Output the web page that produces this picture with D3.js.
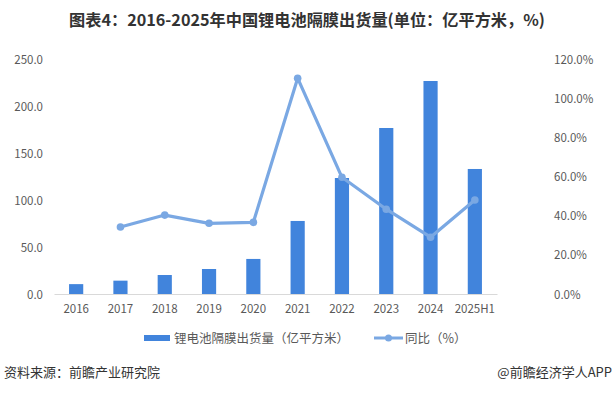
<!DOCTYPE html>
<html><head><meta charset="utf-8">
<script src="https://cdn.jsdelivr.net/npm/d3@7"></script>
<style>
html,body{margin:0;padding:0;background:#fff;}
svg{display:block;font-family:"Noto Sans CJK SC","Microsoft YaHei",sans-serif;}
</style></head>
<body>
<svg id="chart" width="614" height="393"></svg>
<script>
const categories = ["2016","2017","2018","2019","2020","2021","2022","2023","2024","2025H1"];
const shipments = [10.5, 14.2, 20.2, 26.6, 37.3, 77.7, 123.4, 176.6, 226.6, 133.0];
const yoy = [null, 34.2, 40.3, 36.1, 36.6, 110.2, 59.6, 43.3, 29.0, 48.0];
const leftTicks = [0, 50, 100, 150, 200, 250];
const rightTicks = [0, 20, 40, 60, 80, 100, 120];
const title = "图表4：2016-2025年中国锂电池隔膜出货量(单位：亿平方米，%)";
const barName = "锂电池隔膜出货量（亿平方米）";
const lineName = "同比（%）";
const source = "资料来源：前瞻产业研究院";
const credit = "@前瞻经济学人APP";

const svg = d3.select("#chart");
const barColor = "#4184dc", lineColor = "#7aa8e3", textColor = "#595959";
const x = d3.scaleBand().domain(categories).range([54, 497]).paddingInner(0.68).paddingOuter(0.34);
const yL = d3.scaleLinear().domain([0, 250]).range([294, 59]);
const yR = d3.scaleLinear().domain([0, 120]).range([294, 59]);

// title
svg.append("text").attr("x", 307).attr("y", 26).attr("text-anchor", "middle")
  .attr("font-size", 16.2).attr("font-weight", "bold").attr("fill", "#333").text(title);

// axes
const gL = svg.append("g").attr("transform", "translate(43,0)")
  .call(d3.axisLeft(yL).tickValues(leftTicks).tickFormat(d3.format(".1f")).tickSize(0).tickPadding(0));
const gR = svg.append("g").attr("transform", "translate(554,0)")
  .call(d3.axisRight(yR).tickValues(rightTicks).tickFormat(d => d.toFixed(1) + "%").tickSize(0).tickPadding(0));
const gX = svg.append("g").attr("transform", "translate(0,294)")
  .call(d3.axisBottom(x).tickSize(0).tickPadding(11));
[gL, gR].forEach(g => g.select(".domain").remove());
gX.select(".domain").attr("stroke", "#d9d9d9");
svg.selectAll(".tick text").attr("font-size", 11.5).attr("fill", textColor)
  .attr("font-family", "'Noto Sans CJK SC','Microsoft YaHei',sans-serif");
gL.selectAll(".tick text").attr("dy", "0.35em");
gR.selectAll(".tick text").attr("dy", "0.35em");

// bars
svg.append("g").selectAll("rect").data(categories).join("rect")
  .attr("x", d => x(d)).attr("width", x.bandwidth())
  .attr("y", (d, i) => yL(shipments[i])).attr("height", (d, i) => yL(0) - yL(shipments[i]))
  .attr("fill", barColor);

// line
const pts = categories.map((c, i) => ({c, v: yoy[i]})).filter(d => d.v != null);
const line = d3.line().x(d => x(d.c) + x.bandwidth() / 2).y(d => yR(d.v));
svg.append("path").datum(pts).attr("d", line).attr("fill", "none")
  .attr("stroke", lineColor).attr("stroke-width", 3.2).attr("stroke-linejoin", "round");
svg.append("g").selectAll("circle").data(pts).join("circle")
  .attr("cx", d => x(d.c) + x.bandwidth() / 2).attr("cy", d => yR(d.v)).attr("r", 3.8)
  .attr("fill", lineColor);

// legend
const lg = svg.append("g");
lg.append("rect").attr("x", 144).attr("y", 335).attr("width", 26).attr("height", 6).attr("fill", barColor);
lg.append("text").attr("x", 174).attr("y", 343).attr("font-size", 12.5).attr("fill", textColor).text(barName);
lg.append("line").attr("x1", 374).attr("x2", 403).attr("y1", 338).attr("y2", 338)
  .attr("stroke", lineColor).attr("stroke-width", 3);
lg.append("circle").attr("cx", 388.5).attr("cy", 338).attr("r", 3.5).attr("fill", lineColor);
lg.append("text").attr("x", 405).attr("y", 343).attr("font-size", 12.5).attr("fill", textColor).text(lineName);

// footer
svg.append("text").attr("x", 4).attr("y", 377).attr("font-size", 13).attr("fill", "#333").text(source);
svg.append("text").attr("x", 612).attr("y", 377).attr("text-anchor", "end").attr("font-size", 13).attr("fill", "#333").text(credit);
</script>
</body></html>
